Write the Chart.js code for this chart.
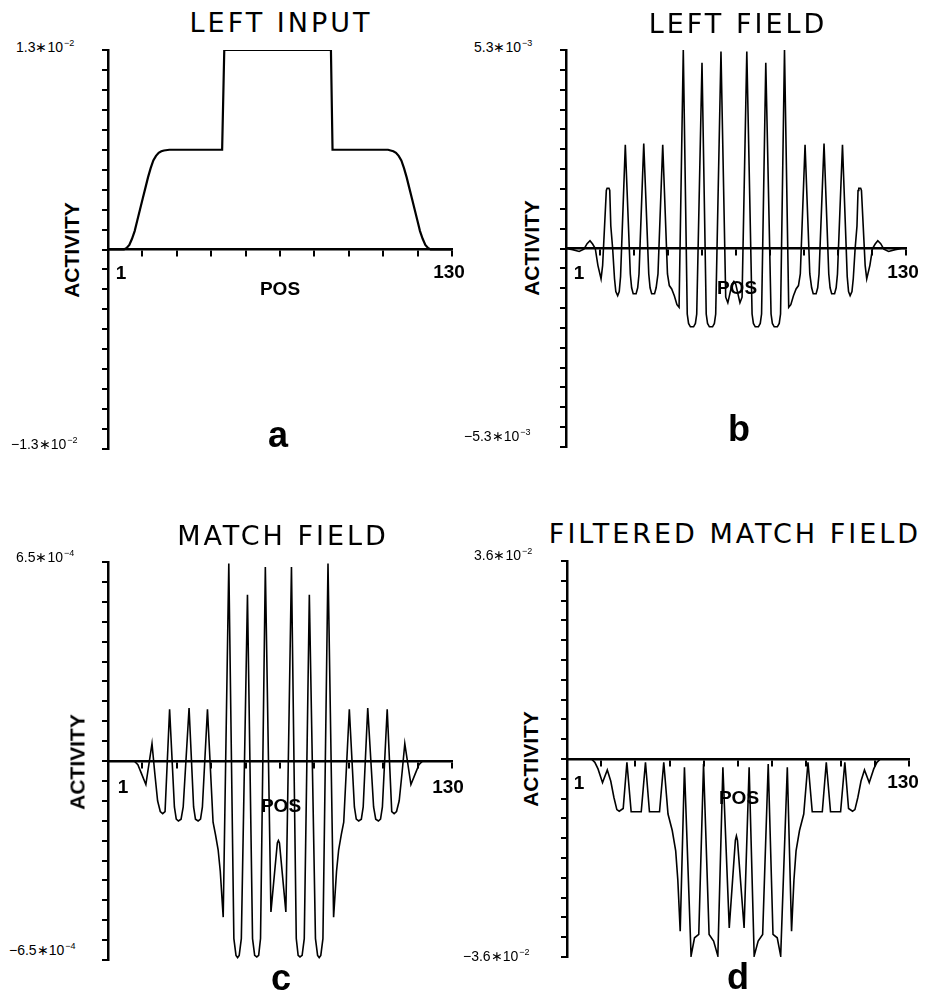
<!DOCTYPE html>
<html lang="en">
<head>
    <meta charset="UTF-8">
    <title>Left Input / Left Field / Match Field</title>
    <script src="https://cdn.jsdelivr.net/npm/chart.js"></script>
    <style>
        body {
            margin: 0;
            background: #fff;
        }

        #page {
            position: relative;
            width: 928px;
            height: 992px;
            overflow: hidden;
            background: #fff;
            color: #000;
        }

        canvas {
            position: absolute;
        }

        .lbl {
            position: absolute;
            white-space: nowrap;
            line-height: 1;
            transform: translate(-50%, -50%);
        }

        .title {
            font-family: "DejaVu Sans", sans-serif;
            font-weight: normal;
            font-size: 27px;
            letter-spacing: 3px;
        }

        .act {
            font-family: "Liberation Sans", Arial, sans-serif;
            font-weight: bold;
            font-size: 21px;
            transform: translate(-50%, -50%) rotate(-90deg);
        }

        .pos, .xend {
            font-family: "Liberation Sans", Arial, sans-serif;
            font-weight: bold;
            font-size: 19px;
        }

        .letter {
            font-family: "Liberation Sans", Arial, sans-serif;
            font-weight: bold;
            font-size: 36px;
        }

        .ylim {
            position: absolute;
            white-space: nowrap;
            line-height: 1;
            transform: translateY(-50%);
            font-family: "Liberation Sans", Arial, sans-serif;
            font-size: 14px;
        }

        .ylim sup {
            font-size: 9px;
            vertical-align: 6px;
            margin-left: 1px;
        }
    </style>
</head>
<body>
    <div id="page"></div>

    <script>
        // ---- data (positions 1..130, activity in units of 10^exp) ----
        const TITLES = ['LEFT INPUT', 'LEFT FIELD', 'MATCH FIELD', 'FILTERED MATCH FIELD'];
        const PANEL_LETTERS = ['a', 'b', 'c', 'd'];
        const X_AXIS_TITLE = 'POS';
        const Y_AXIS_TITLE = 'ACTIVITY';
        const X_END_LABELS = ['1', '130'];
        const X_TICKS = [1, 13.9, 26.8, 39.7, 52.6, 65.5, 78.4, 91.3, 104.2, 117.1, 130];
        const Y_MANTISSA = [1.3, 5.3, 6.5, 3.6];
        const Y_EXPONENT = [-2, -3, -4, -2];

        const POS_A = [1, 7, 8, 9, 10, 11, 12, 13, 14, 15, 16, 17, 18, 19, 20, 21, 22, 24,
            43.8, 44.6, 84.6, 85.2,
            106, 107, 108, 109, 110, 111, 112, 113, 114, 115, 116, 117, 118, 119, 120, 121, 122, 130];
        const LEFT_INPUT = [0, 0, 0.01, 0.03, 0.07, 0.12, 0.19, 0.26, 0.33, 0.40, 0.47, 0.53, 0.58, 0.61, 0.63, 0.64, 0.645, 0.65,
            0.65, 1.3, 1.3, 0.65,
            0.65, 0.645, 0.64, 0.63, 0.61, 0.58, 0.53, 0.47, 0.40, 0.33, 0.26, 0.19, 0.12, 0.07, 0.03, 0.01, 0, 0];

        const POS_B = [1, 3.5, 6.0, 7.8, 9.0, 10.1, 11.1, 12.1, 13.1, 14.3, 14.9,
            16.3, 16.6, 17.3, 17.6, 18.0, 18.7, 19.4, 19.9, 20.6, 21.2, 21.7,
            23.5, 25.4, 25.9, 26.5, 27.6, 28.2, 28.7,
            30.5, 32.4, 32.9, 33.5, 34.6, 35.2, 35.9,
            37.7, 39.5, 40.2, 41.1, 42.1, 43.1, 43.9,
            45.5, 47.0, 47.5, 48.2, 49.4, 50.1, 50.6,
            52.6, 54.2, 54.7, 55.4, 56.6, 57.3, 57.8,
            59.8, 61.6, 62.4, 64.0, 64.7, 65.4, 67.0, 67.8,
            69.6, 71.6, 72.1, 72.8, 74.0, 74.7, 75.2,
            76.8, 78.8, 79.3, 80.0, 81.2, 81.9, 82.4,
            83.9, 85.5, 86.3, 87.3, 88.3, 89.2, 89.9,
            91.7, 93.5, 94.2, 94.8, 95.9, 96.5, 97.0,
            98.9, 100.7, 101.2, 101.8, 102.9, 103.5, 104.0,
            105.9, 107.7, 108.2, 108.8, 109.5, 110.0, 110.7, 111.4,
            111.8, 112.1, 112.8, 113.1, 114.5, 115.1, 116.3, 117.3, 118.3, 119.3, 120.4, 121.6, 123.4, 125.9, 128.4, 130];
        const LEFT_FIELD = [0, -0.03, -0.08, -0.02, 0.13, 0.21, 0.12, 0, -0.45, -0.81, -0.45,
            1.55, 1.61, 1.61, 1.55, 0.6, 0, -0.8, -1.15, -1.26, -1.15, -0.75,
            2.77, -0.68, -1.05, -1.21, -1.21, -1.05, -0.68,
            2.80, -0.68, -1.05, -1.21, -1.21, -1.05, -0.68,
            2.77, -0.68, -0.99, -1.08, -1.26, -1.5, -1.57,
            5.3, -1.75, -2.0, -2.09, -2.09, -2.0, -1.75,
            4.96, -1.75, -2.0, -2.09, -2.09, -2.0, -1.75,
            5.26, -1.3, -1.45, -0.95, -0.88, -0.95, -1.45, -1.3,
            5.26, -1.75, -2.0, -2.09, -2.09, -2.0, -1.75,
            4.96, -1.75, -2.0, -2.09, -2.09, -2.0, -1.75,
            5.3, -1.57, -1.5, -1.26, -1.08, -0.99, -0.68,
            2.77, -0.68, -1.05, -1.21, -1.21, -1.05, -0.68,
            2.80, -0.68, -1.05, -1.21, -1.21, -1.05, -0.68,
            2.77, -0.75, -1.15, -1.26, -1.15, -0.8, 0, 0.6,
            1.55, 1.61, 1.61, 1.55, -0.45, -0.81, -0.45, 0, 0.12, 0.21, 0.13, -0.02, -0.08, -0.03, 0, 0];

        const POS_C = [1, 10.8, 12.2, 13.6, 15.2, 17.5, 18.5, 19.6, 20.6, 21.5, 22.4,
            24.1, 25.9, 26.6, 27.4, 28.4, 29.2,
            31.4, 33.1, 33.8, 34.8, 35.7, 36.4,
            38.3, 40.4, 41.3, 42.3, 43.1, 44.2,
            46.3, 48.2, 49.0, 49.6, 50.2, 51.0,
            53.3, 55.2, 56.0, 56.8, 57.5, 58.2,
            60.0, 62.1, 64.5, 64.9, 65.3, 67.7,
            69.8, 71.6, 72.3, 73.0, 73.8, 74.6,
            76.5, 78.8, 79.6, 80.2, 80.8, 81.6,
            83.5, 85.6, 86.7, 87.5, 88.5, 89.4,
            91.5, 93.4, 94.1, 95.0, 96.0, 96.7,
            98.4, 100.6, 101.4, 102.4, 103.2, 103.9,
            105.7, 107.4, 108.3, 109.2, 110.2, 111.3, 112.3, 114.6, 116.2, 117.6, 119.0, 130];
        const MATCH_FIELD = [0, 0, -0.12, -0.42, -0.77, 0.57, -0.36, -1.3, -1.65, -1.72, -1.65,
            1.69, -1.5, -1.9, -1.96, -1.9, -1.5,
            1.73, -1.5, -1.9, -1.96, -1.9, -1.5,
            1.69, -2.0, -2.4, -2.9, -3.6, -5.1,
            6.45, -5.8, -6.35, -6.42, -6.35, -5.8,
            5.43, -5.8, -6.35, -6.40, -6.35, -5.8,
            6.34, -4.93, -2.68, -2.6, -2.68, -4.93,
            6.34, -5.8, -6.35, -6.40, -6.35, -5.8,
            5.43, -5.8, -6.35, -6.42, -6.35, -5.8,
            6.45, -5.1, -3.6, -2.9, -2.4, -2.0,
            1.69, -1.5, -1.9, -1.96, -1.9, -1.5,
            1.73, -1.5, -1.9, -1.96, -1.9, -1.5,
            1.69, -1.65, -1.72, -1.65, -1.3, -0.36, 0.57, -0.77, -0.42, -0.12, 0, 0];

        const POS_D = [1, 10.2, 11.5, 12.7, 14.4, 16.2, 17.5, 18.7, 19.8, 20.7, 22.2,
            23.6, 25.2, 29.0, 30.6, 32.1, 35.9,
            37.5, 39.1, 40.7, 42.0, 42.8, 43.7,
            45.3, 47.8, 49.1, 50.7,
            52.5, 54.6, 56.3, 57.9,
            59.8, 62.2, 64.5, 64.9, 65.3, 67.8,
            69.7, 71.6, 73.1, 74.8,
            76.9, 78.7, 80.3, 81.6,
            84.1, 85.7, 86.6, 87.4, 88.7, 90.3,
            91.9, 93.5, 97.3, 98.8, 100.4, 104.2,
            105.8, 107.2, 108.7, 109.6, 110.7, 111.9, 113.2, 115.0, 116.7, 117.9, 119.2, 130];
        const FILTERED_MATCH = [0, 0, -0.06, -0.18, -0.43, -0.2, -0.4, -0.7, -0.92, -0.95, -0.9,
            -0.06, -0.96, -0.96, -0.06, -0.96, -0.96,
            -0.06, -1.0, -1.3, -1.67, -2.2, -3.13,
            -0.15, -3.58, -3.25, -3.19,
            -0.09, -3.19, -3.31, -3.58,
            -0.15, -3.07, -1.48, -1.4, -1.48, -3.07,
            -0.15, -3.58, -3.31, -3.19,
            -0.09, -3.19, -3.25, -3.58,
            -0.15, -3.13, -2.2, -1.67, -1.3, -1.0,
            -0.06, -0.96, -0.96, -0.06, -0.96, -0.96,
            -0.06, -0.9, -0.95, -0.92, -0.7, -0.4, -0.2, -0.43, -0.18, -0.06, 0, 0];

        const SERIES_X = [POS_A, POS_B, POS_C, POS_D];
        const SERIES_Y = [LEFT_INPUT, LEFT_FIELD, MATCH_FIELD, FILTERED_MATCH];

        // ---- page layout (pixels) ----
        const LAYOUT = [
            { box: [108, 50, 452, 449], line: 2.2, title: [281, 22], act: [71, 250], pos: [280, 288], one: [121, 272], end: [449, 271], letter: [278, 435], yTop: [16, 46], yBot: [11, 443] },
            { box: [566, 50, 906, 447], line: 1.6, title: [738, 23], act: [531, 248], pos: [737, 287], one: [579, 272], end: [903, 271], letter: [739, 429], yTop: [474, 46], yBot: [464, 435] },
            { box: [108, 562, 452, 960], line: 1.6, title: [283, 535], act: [77, 762], pos: [281, 805], one: [123, 786], end: [448, 786], letter: [281, 978], yTop: [16, 556], yBot: [9, 949] },
            { box: [567, 561, 909, 957], line: 1.6, title: [735, 533], act: [530, 759], pos: [739, 797], one: [579, 782], end: [903, 781], letter: [738, 977], yTop: [474, 554], yBot: [463, 955] }
        ];
        const PAD_X = 20, PAD_Y = 12, TICK_LEN = 6;

        const page = document.getElementById('page');

        function addLabel(cls, html, x, y) {
            const el = document.createElement('div');
            el.className = cls;
            el.innerHTML = html;
            el.style.left = x + 'px';
            el.style.top = y + 'px';
            page.appendChild(el);
            return el;
        }

        LAYOUT.forEach((lay, i) => {
            const [l, t, r, b] = lay.box;
            const limit = Y_MANTISSA[i];

            const canvas = document.createElement('canvas');
            canvas.width = (r - l) + 2 * PAD_X;
            canvas.height = (b - t) + 2 * PAD_Y;
            canvas.style.left = (l - PAD_X) + 'px';
            canvas.style.top = (t - PAD_Y) + 'px';
            page.appendChild(canvas);

            const points = SERIES_X[i].map((x, k) => ({ x: x, y: SERIES_Y[i][k] }));
            const axisGrid = { drawOnChartArea: false, drawTicks: true, tickLength: TICK_LEN, lineWidth: 2, color: '#000' };
            const axisBorder = { display: true, width: 2.5, color: '#000' };

            new Chart(canvas, {
                type: 'line',
                data: {
                    datasets: [{
                        data: points,
                        borderColor: '#000',
                        borderWidth: lay.line,
                        pointRadius: 0,
                        tension: 0,
                        fill: false
                    }]
                },
                options: {
                    responsive: false,
                    animation: false,
                    devicePixelRatio: 1,
                    layout: { padding: { left: PAD_X - TICK_LEN, right: PAD_X, top: PAD_Y, bottom: PAD_Y } },
                    plugins: { legend: { display: false }, tooltip: { enabled: false } },
                    scales: {
                        x: {
                            type: 'linear',
                            min: 1,
                            max: 130,
                            position: { y: 0 },
                            ticks: { display: false },
                            afterBuildTicks: s => { s.ticks = X_TICKS.map(v => ({ value: v })); },
                            grid: axisGrid,
                            border: axisBorder
                        },
                        y: {
                            type: 'linear',
                            min: -limit,
                            max: limit,
                            position: 'left',
                            ticks: { display: false },
                            afterBuildTicks: s => {
                                const ticks = [];
                                for (let k = -10; k <= 10; k++) ticks.push({ value: limit * k / 10 });
                                s.ticks = ticks;
                            },
                            grid: axisGrid,
                            border: axisBorder
                        }
                    }
                }
            });

            addLabel('lbl title', TITLES[i], lay.title[0], lay.title[1]);
            addLabel('lbl act', Y_AXIS_TITLE, lay.act[0], lay.act[1]);
            addLabel('lbl pos', X_AXIS_TITLE, lay.pos[0], lay.pos[1]);
            addLabel('lbl xend', X_END_LABELS[0], lay.one[0], lay.one[1]);
            addLabel('lbl xend', X_END_LABELS[1], lay.end[0], lay.end[1]);
            addLabel('lbl letter', PANEL_LETTERS[i], lay.letter[0], lay.letter[1]);

            const exp = '\u2212' + Math.abs(Y_EXPONENT[i]);
            addLabel('ylim', limit.toFixed(1) + '\u2217' + '10<sup>' + exp + '</sup>', lay.yTop[0], lay.yTop[1]);
            addLabel('ylim', '\u2212' + limit.toFixed(1) + '\u2217' + '10<sup>' + exp + '</sup>', lay.yBot[0], lay.yBot[1]);
        });
    </script>
</body>
</html>
